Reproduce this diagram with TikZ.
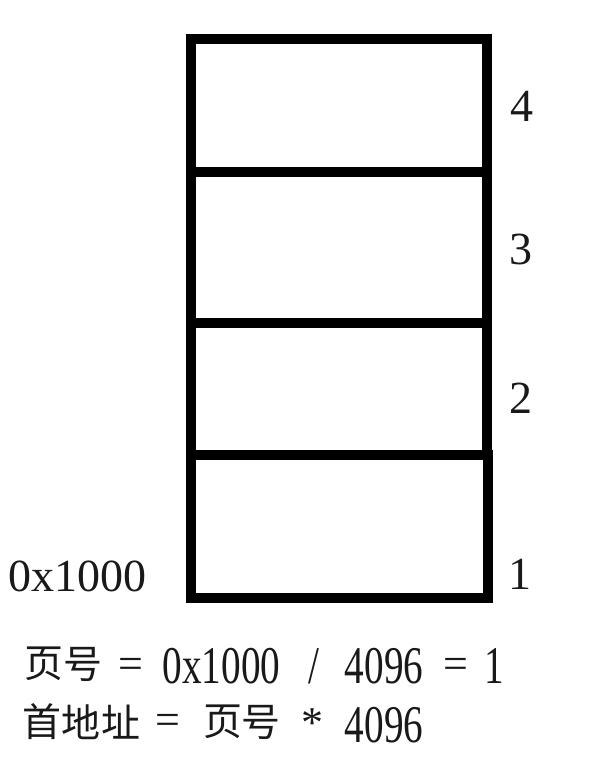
\documentclass[tikz,border=0pt]{standalone}
\usepackage{fontspec}
\setmainfont{Liberation Serif}
\newfontfamily\cjk{Noto Sans CJK SC}
\begin{document}
\begin{tikzpicture}[x=1pt,y=-1pt,
  cell/.style={draw=black,line width=10pt,minimum width=296pt,inner sep=0pt,fill=none},
  lab/.style={font=\fontsize{46}{46}\selectfont,inner sep=0pt,text=black!90},
  eq/.style={font=\fontsize{53}{53}\selectfont,inner sep=0pt,xscale=0.74,transform shape,anchor=base,text=black!90},
  op/.style={font=\fontsize{44}{44}\selectfont,inner sep=0pt,anchor=center,text=black!90},
  zh/.style={font=\cjk\fontsize{39}{39}\selectfont,inner sep=0pt,anchor=center,text=black!90}]
\useasboundingbox[fill=white] (0,0) rectangle (616,764);
% memory cells
\node[cell,minimum height=132.5pt] (c4) at (339,105.25) {};
\node[cell,minimum height=151.5pt] (c3) at (339,247.25) {};
\node[cell,minimum height=132pt] (c2) at (339,389) {};
\node[cell,minimum width=297pt,minimum height=142.5pt] (c1) at (339.5,526.25) {};
% page numbers
\node[lab] (n4) at (522,106) {4};
\node[lab] (n3) at (521,249) {3};
\node[lab] (n2) at (521,398) {2};
\node[lab] (n1) at (520,574) {1};
\node[lab] (addr) at (78,576) {0x1000};
% line 1
\node[zh] (a1) at (43.5,664) {页};
\node[zh] (a2) at (82.5,664) {号};
\node[op] (a3) at (131,668) {=};
\node[eq] (a4) at (221.5,683) {0x1000};
\node[eq] (a5) at (313.5,683) {/};
\node[eq] (a6) at (384,683) {4096};
\node[op] (a7) at (456,668) {=};
\node[eq] (a8) at (494.5,683) {1};
% line 2
\node[zh] (b1) at (42.5,722) {首};
\node[zh] (b2) at (81,722) {地};
\node[zh] (b3) at (121,722) {址};
\node[op] (b4) at (167.5,724) {=};
\node[zh] (b5) at (222.5,722) {页};
\node[zh] (b6) at (261,722) {号};
\node[op] (b7) at (312.5,723) {*};
\node[eq] (b8) at (384,742) {4096};
\end{tikzpicture}
\end{document}
